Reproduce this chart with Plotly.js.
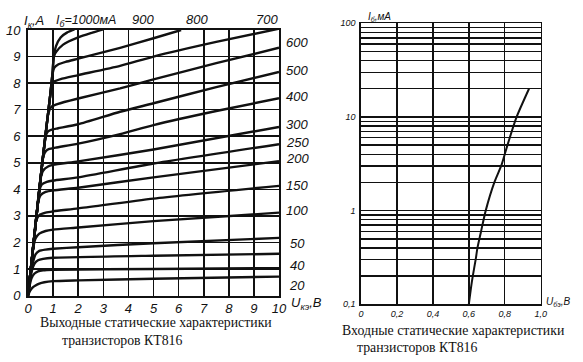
<!DOCTYPE html>
<html><head><meta charset="utf-8">
<script src="https://cdn.plot.ly/plotly-3.0.1.min.js"></script>
<style>html,body{margin:0;padding:0;background:#fff}#chart{width:583px;height:362px}</style>
</head><body><div id="chart"></div>
<script>
// ---------- Output characteristics (left): Ik [A] vs Uke [V], one curve per base current ----------
const outCurveLabels = ["20", "30", "40", "50", "100", "150", "200", "250", "300", "400", "500", "600", "700", "800", "900", "1000"];
const outCurveX = [
  [0, 0.08, 0.18, 0.3, 0.45, 0.65, 1.0, 2, 5, 10],
  [0, 0.06, 0.14, 0.25, 0.4, 0.6, 1.0, 5, 10],
  [0, 0.08, 0.16, 0.26, 0.4, 0.6, 1, 5, 10],
  [0, 0.1, 0.2, 0.3, 0.45, 0.7, 1, 2, 5, 10],
  [0, 0.12, 0.22, 0.3, 0.45, 0.7, 1, 2, 5, 10],
  [0, 0.15, 0.25, 0.32, 0.45, 0.7, 1, 2, 5, 10],
  [0, 0.2, 0.33, 0.4, 0.5, 0.7, 1, 2, 5, 10],
  [0, 0.2, 0.38, 0.45, 0.55, 0.75, 1, 2, 5, 10],
  [0, 0.2, 0.42, 0.5, 0.6, 0.8, 1, 2, 5, 10],
  [0, 0.3, 0.57, 0.63, 0.72, 0.85, 1.1, 2, 3.67, 5, 7.5, 10],
  [0, 0.3, 0.57, 0.72, 0.8, 0.95, 1.2, 2, 3.67, 5, 7.5, 10],
  [0, 0.3, 0.57, 0.78, 0.86, 0.95, 1.2, 2, 3.67, 5, 7.5, 10],
  [0, 0.3, 0.57, 0.78, 0.88, 0.95, 1.03, 1.3, 2, 3.67, 5, 7.5, 10],
  [0, 0.3, 0.57, 0.78, 0.88, 0.97, 1.05, 1.2, 1.5, 2, 3.67, 5, 6.1],
  [0, 0.3, 0.57, 0.78, 0.88, 0.97, 1.03, 1.1, 1.4, 2, 2.5, 3.0],
  [0, 0.3, 0.57, 0.78, 0.88, 0.97, 1.03, 1.12, 1.3, 1.55, 1.85]
];
const outCurveY = [
  [0, 0.17, 0.3, 0.38, 0.45, 0.5, 0.54, 0.57, 0.63, 0.71],
  [0, 0.35, 0.65, 0.82, 0.91, 0.95, 0.97, 1.0, 1.03],
  [0, 0.55, 0.95, 1.2, 1.33, 1.38, 1.42, 1.5, 1.57],
  [0, 0.75, 1.25, 1.55, 1.68, 1.73, 1.76, 1.82, 1.97, 2.17],
  [0, 1.05, 1.85, 2.15, 2.33, 2.43, 2.48, 2.56, 2.8, 3.12],
  [0, 1.35, 2.25, 2.8, 3.03, 3.12, 3.17, 3.28, 3.65, 4.13],
  [0, 1.8, 2.95, 3.5, 3.78, 3.9, 3.96, 4.06, 4.45, 5.06],
  [0, 1.8, 3.4, 3.95, 4.18, 4.28, 4.33, 4.45, 4.97, 5.70],
  [0, 1.8, 3.75, 4.4, 4.7, 4.86, 4.92, 5.05, 5.5, 6.35],
  [0, 2.65, 5.0, 5.3, 5.45, 5.52, 5.57, 5.72, 6.08, 6.42, 6.95, 7.43],
  [0, 2.65, 5.0, 6.05, 6.18, 6.25, 6.3, 6.45, 6.92, 7.24, 7.85, 8.42],
  [0, 2.65, 5.0, 6.7, 7.0, 7.12, 7.22, 7.42, 7.8, 8.14, 8.75, 9.33],
  [0, 2.65, 5.0, 6.7, 7.5, 7.9, 8.05, 8.15, 8.3, 8.65, 9.0, 9.55, 10.05],
  [0, 2.65, 5.0, 6.7, 7.5, 8.3, 8.58, 8.7, 8.8, 8.92, 9.33, 9.69, 10.0],
  [0, 2.65, 5.0, 6.7, 7.5, 8.3, 9.0, 9.15, 9.45, 9.72, 9.88, 10.02],
  [0, 2.65, 5.0, 6.7, 7.5, 8.3, 9.0, 9.4, 9.72, 9.9, 10.02]
];
const outTickVals = [0, 1, 2, 3, 4, 5, 6, 7, 8, 9, 10];
const outTickText = ["0", "1", "2", "3", "4", "5", "6", "7", "8", "9", "10"];
const outRightLabels = ["600", "500", "400", "300", "250", "200", "150", "100", "50", "40", "20"];
const outTopLabels = ["900", "800", "700"];

// ---------- Input characteristic (right): Ib [mA] vs Ube [V] ----------
const inUbe = [0.6, 0.612, 0.622, 0.638, 0.648, 0.668, 0.694, 0.742, 0.78, 0.8, 0.815, 0.866, 0.935];
const inIb  = [0.1, 0.15, 0.2, 0.3, 0.4, 0.6, 1, 2, 3, 4, 5, 10, 20];
const inTickX = [0, 0.2, 0.4, 0.6, 0.8, 1.0];
const inTickXText = ["0", "0,2", "0,4", "0,6", "0,8", "1,0"];
const inTickY = [0.1, 1, 10, 100];
const inTickYText = ["0,1", "1", "10", "100"];
const inMinorY = [0.2,0.3,0.4,0.5,0.6,0.7,0.8,0.9,2,3,4,5,6,7,8,9,20,30,40,50,60,70,80,90];

// ---------- figure ----------
const W = 583, H = 362;
const px = x => x / W, py = y => 1 - y / H;
const ink = "#111";
const hand = "Liberation Sans";
const serif = "Liberation Serif";

const traces = [];
outCurveLabels.forEach((lab, i) => {
  traces.push({
    type: "scatter", mode: "lines", name: lab + " мА",
    x: outCurveX[i], y: outCurveY[i], xaxis: "x", yaxis: "y",
    line: {color: ink, width: 2.4, shape: "spline", smoothing: 0.6},
    hoverinfo: "skip", showlegend: false
  });
});
traces.push({
  type: "scatter", mode: "lines", name: "Iб(Uбэ)",
  x: inUbe, y: inIb, xaxis: "x2", yaxis: "y2",
  line: {color: ink, width: 2, shape: "spline", smoothing: 0.6},
  hoverinfo: "skip", showlegend: false
});

const it = s => "<i>" + s + "</i>";
const annotations = [];
function txt(text, x, y, size, family, anchor) {
  annotations.push({text, x: px(x), y: py(y), xref: "paper", yref: "paper",
    xanchor: anchor || "center", yanchor: "middle", showarrow: false,
    font: {family: family || hand, size: size || 13, color: ink}});
}
// left chart labels
txt(it("I<sub>к</sub>,A"), 22, 21, 13, hand, "left");
txt(it("I<sub>б</sub>=1000мА"), 54, 21, 12.5, hand, "left");
const topLabelX = [143, 197, 267];
outTopLabels.forEach((l, i) => txt(it(l), topLabelX[i], 20, 13));
const rightLabelY = [43, 70, 97, 125, 143, 158, 185, 210, 243, 265, 285];
outRightLabels.forEach((l, i) => txt(it(l), 297, rightLabelY[i], 13));
txt(it("U<sub>кэ</sub>,В"), 289, 303, 13, hand, "left");
// right chart labels
txt(it("I<sub>б</sub>,мА"), 366, 17, 10, hand, "left");
txt(it("U<sub>бэ</sub>,В"), 544, 302, 10, hand, "left");
// captions
txt("Выходные статические характеристики", 38, 322, 13.8, serif, "left");
txt("транзисторов КТ816", 60, 340, 13.8, serif, "left");
txt("Входные статические характеристики", 340, 330, 13.8, serif, "left");
txt("транзисторов КТ816", 355, 347, 13.8, serif, "left");

const gridL = {showgrid: true, gridcolor: ink, gridwidth: 1.6, zeroline: false,
  showline: true, linecolor: ink, linewidth: 2, mirror: true, ticks: "",
  fixedrange: true};
const gridR = {showgrid: true, gridcolor: ink, gridwidth: 1.4, zeroline: false,
  showline: true, linecolor: ink, linewidth: 1.6, mirror: true, ticks: "",
  fixedrange: true};

const layout = {
  width: W, height: H,
  margin: {l: 0, r: 0, t: 0, b: 0},
  paper_bgcolor: "#fff", plot_bgcolor: "#fff",
  showlegend: false,
  xaxis: Object.assign({}, gridL, {
    domain: [px(28), px(279)], range: [0, 10], anchor: "y",
    tickmode: "array", tickvals: outTickVals, ticktext: outTickText.map(it),
    tickfont: {family: hand, size: 13, color: ink}
  }),
  yaxis: Object.assign({}, gridL, {
    domain: [py(295.5), py(30)], range: [0, 10], anchor: "x",
    tickmode: "array", tickvals: outTickVals, ticktext: outTickText.map(it),
    tickfont: {family: hand, size: 13, color: ink}, ticklabelstandoff: 3
  }),
  xaxis2: Object.assign({}, gridR, {
    domain: [px(361), px(540.7)], range: [0, 1], anchor: "y2",
    tickmode: "array", tickvals: inTickX, ticktext: inTickXText.map(it),
    tickfont: {family: hand, size: 9, color: ink}
  }),
  yaxis2: Object.assign({}, gridR, {
    domain: [py(304.3), py(23.3)], type: "log", range: [-1, 2], anchor: "x2",
    tickmode: "array", tickvals: inTickY, ticktext: inTickYText.map(it),
    tickfont: {family: hand, size: 9, color: ink}, ticklabelstandoff: 2,
    minor: {showgrid: true, gridcolor: ink, gridwidth: 1.4, tickmode: "array", tickvals: inMinorY, ticks: ""}
  }),
  annotations
};

Plotly.newPlot("chart", traces, layout, {staticPlot: true, displayModeBar: false});
</script>
</body></html>
